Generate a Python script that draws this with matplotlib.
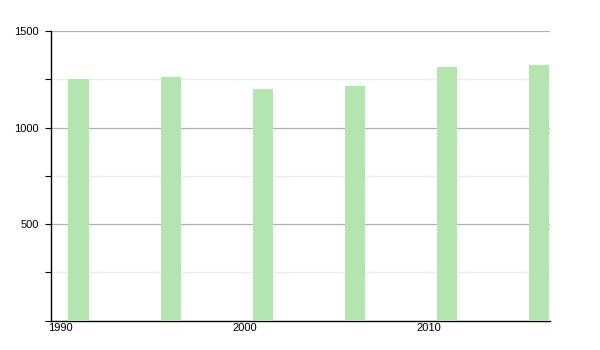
import matplotlib.pyplot as plt
from matplotlib.ticker import MultipleLocator

years = [1991, 1996, 2001, 2006, 2011, 2016]
values = [1250, 1260, 1200, 1215, 1314, 1323]
xticks = [1990, 2000, 2010]

plt.rcParams['font.family'] = ['Liberation Sans', 'DejaVu Sans']

fig = plt.figure(figsize=(6, 3.5), dpi=100)
ax = fig.add_axes([0.085, 0.0837, 0.8317, 0.8277])

ax.bar(years, values, width=1.1, color='#b3e5b0', zorder=3)

ax.set_xlim(1989.5, 2016.6)
ax.set_ylim(0, 1500)
ax.set_xticks(xticks)
ax.set_yticks([500, 1000, 1500])
ax.yaxis.set_minor_locator(MultipleLocator(250))

ax.grid(axis='y', which='major', color='#b0b0b0', linewidth=0.9, zorder=0)
ax.grid(axis='y', which='minor', color='#ebebeb', linewidth=0.9, zorder=0)

for s in ['top', 'right']:
    ax.spines[s].set_visible(False)
ax.spines['left'].set_linewidth(1.0)
ax.spines['bottom'].set_linewidth(1.0)

ax.tick_params(axis='y', which='both', length=4, width=0.8, labelsize=8, pad=5)
ax.tick_params(axis='x', length=0, labelsize=8, pad=2)

fig.savefig('out.png', dpi=100)
